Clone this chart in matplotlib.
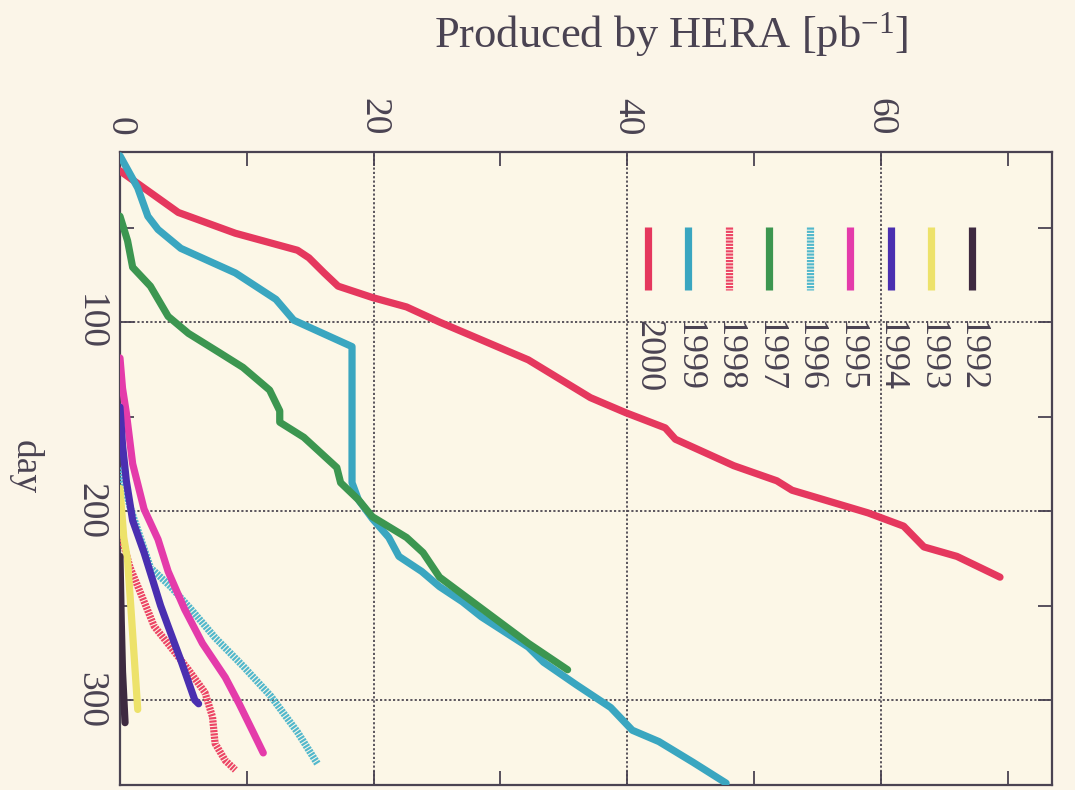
import numpy as np
import matplotlib
matplotlib.use("Agg")
import matplotlib.pyplot as plt
from matplotlib.ticker import MultipleLocator

plt.rcParams['font.family'] = ['Liberation Serif', 'DejaVu Serif']
plt.rcParams['mathtext.default'] = 'regular'

# ---- data: (luminosity produced [pb^-1], day) for each year ----
years = ["2000", "1999", "1998", "1997", "1996", "1995", "1994", "1993", "1992"]

lumi_2000 = [0, 4.6, 9.1, 14.0, 14.9, 16.1, 17.2, 19.9, 22.6, 25.2, 32.2, 37.1, 39.9, 43.0, 43.8,
             48.4, 51.8, 53.0, 59.0, 61.8, 63.4, 66.0, 69.4]
day_2000 = [20, 42, 53, 62, 66, 74, 81, 87, 92, 100, 120, 140, 148, 156, 162,
            176, 184, 189, 201, 208, 219, 224, 235]

lumi_1999 = [0, 1.4, 2.2, 3.0, 4.8, 9.1, 12.3, 13.7, 18.3, 18.3, 18.8, 19.9, 21.2, 22.0, 23.8,
             25.2, 27.0, 28.5, 32.2, 33.4, 36.0, 38.7, 40.4, 42.5, 45.2, 47.8]
day_1999 = [12, 29, 44, 51, 61, 74, 88, 99, 113, 185, 194, 204, 214, 224, 232,
            240, 248, 256, 272, 280, 292, 304, 316, 322, 333, 344]

lumi_1998 = [0, 0.3, 0.8, 1.6, 2.7, 4.0, 5.4, 6.7, 7.3, 7.5, 8.3, 9.1]
day_1998 = [205, 218, 230, 243, 261, 272, 284, 296, 309, 323, 332, 337]

lumi_1997 = [0, 0.6, 1.0, 2.4, 3.8, 5.4, 7.8, 9.7, 11.8, 12.6, 12.6, 14.5, 17.1, 17.4, 18.8,
             19.9, 22.6, 23.9, 25.2, 28.0, 32.2, 35.3]
day_1997 = [44, 57, 71, 81, 97, 106, 116, 124, 136, 147, 153, 161, 177, 185, 194,
            203, 214, 222, 235, 249, 270, 284]

lumi_1996 = [0, 0.8, 1.6, 2.4, 4.0, 5.6, 7.5, 9.7, 11.9, 14.0, 15.6]
day_1996 = [177, 198, 214, 230, 240, 252, 267, 282, 298, 317, 334]

lumi_1995 = [0, 0.2, 0.5, 1.0, 1.9, 3.0, 3.8, 5.1, 6.5, 8.3, 9.4, 10.5, 11.3]
day_1995 = [119, 135, 148, 175, 199, 215, 232, 252, 270, 288, 302, 317, 328]

lumi_1994 = [0, 0.2, 0.5, 1.0, 1.9, 2.6, 3.2, 3.8, 4.8, 5.9, 6.2]
day_1994 = [145, 165, 184, 205, 222, 237, 250, 261, 279, 300, 302]

lumi_1993 = [0, 0.3, 0.6, 0.9, 1.2, 1.4]
day_1993 = [188, 214, 226, 255, 285, 305]

lumi_1992 = [0, 0.1, 0.2, 0.4]
day_1992 = [224, 258, 285, 312]

series_lumi = [lumi_2000, lumi_1999, lumi_1998, lumi_1997, lumi_1996,
               lumi_1995, lumi_1994, lumi_1993, lumi_1992]
series_day = [day_2000, day_1999, day_1998, day_1997, day_1996,
              day_1995, day_1994, day_1993, day_1992]

x_ticks = [0, 20, 40, 60]
y_ticks = [100, 200, 300]

# ---- styles ----
colors = ["#E5385E", "#3AA6C0", "#EC4565", "#3C9650", "#52B8CC",
          "#E43BAA", "#4A2FB0", "#EDE26A", "#3E2A40"]
dotted = (0, (0.3, 0.15))
styles = ["-", "-", dotted, "-", dotted, "-", "-", "-", "-"]

bg = "#FCF7E7"
ink = "#4A4352"

fig = plt.figure(figsize=(10.75, 7.90), dpi=100, facecolor="#FBF5E8")
ax = fig.add_axes([0.1116, 0.0063, 0.8670, 0.8013])
ax.set_facecolor(bg)

for lum, day, c, ls in zip(series_lumi, series_day, colors, styles):
    ax.plot(lum, day, color=c, lw=5.2, ls=ls, solid_capstyle='round', zorder=3)

ax.set_xlim(0, 73.5)
ax.set_ylim(345, 10)
ax.set_xticks(x_ticks)
ax.set_yticks(y_ticks)
ax.xaxis.set_minor_locator(MultipleLocator(10))
ax.yaxis.set_minor_locator(MultipleLocator(50))
ax.grid(True, which='major', color="#4E4852", lw=1.3, ls=(0, (1.2, 1.2)), zorder=1)

ax.tick_params(axis='x', which='both', direction='in', top=True, bottom=True,
               labeltop=True, labelbottom=False, labelrotation=-90,
               length=10, width=1.3, color=ink, labelsize=27, labelcolor=ink, pad=12)
ax.tick_params(axis='y', which='both', direction='in', left=True, right=True,
               labelleft=True, labelright=False, labelrotation=-90,
               length=10, width=1.3, color=ink, labelsize=27, labelcolor=ink, pad=9)
for lab in ax.get_yticklabels():
    lab.set_va('center')

for s in ax.spines.values():
    s.set_color(ink)
    s.set_linewidth(1.6)

# ---- legend (vertical samples with rotated labels) ----
x0, dx = 0.5665, 0.0434
for i, (name, c, ls) in enumerate(zip(years, colors, styles)):
    xx = x0 + i * dx
    ax.plot([xx, xx], [0.8815, 0.7820], transform=ax.transAxes, color=c,
            lw=5.2, ls=ls, solid_capstyle='butt', zorder=4)
    ax.text(xx, 0.7346, name, transform=ax.transAxes, rotation=-90,
            ha='center', va='top', fontsize=26, color=ink, zorder=4)

fig.text(0.624, 0.956, "Produced by HERA [pb$^{-1}$]", ha='center', va='center',
         fontsize=32, color=ink)
fig.text(0.023, 0.409, "day", rotation=-90, ha='center', va='center',
         fontsize=27, color=ink)

fig.savefig("out.png", dpi=100, facecolor=fig.get_facecolor())
